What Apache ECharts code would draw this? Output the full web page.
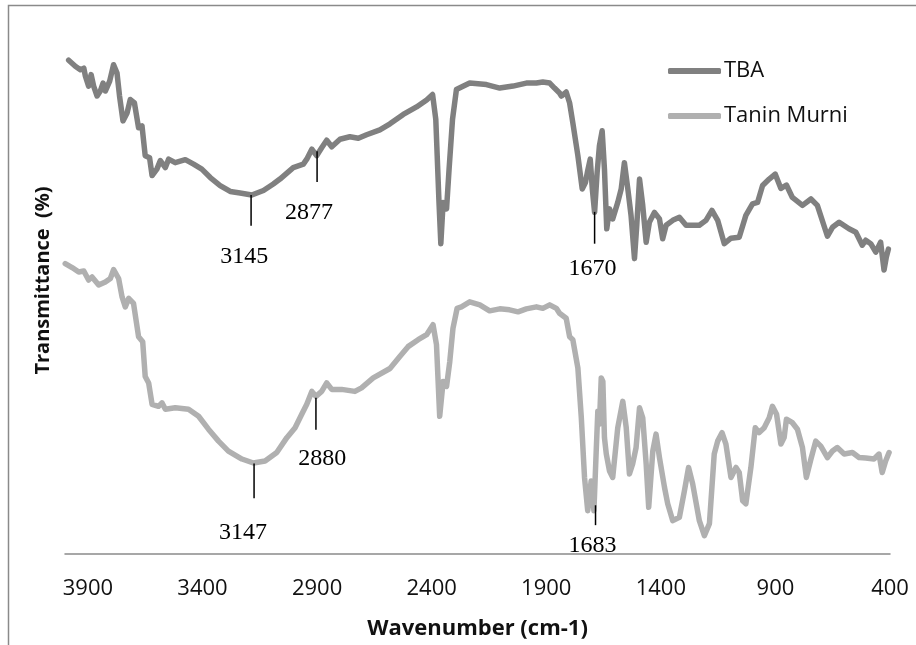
<!DOCTYPE html>
<html>
<head>
<meta charset="utf-8">
<script src="https://cdn.jsdelivr.net/npm/echarts@6/dist/echarts.min.js"></script>
<style>html,body{margin:0;padding:0;background:#fff}#c{width:916px;height:645px}</style>
</head>
<body>
<div id="c"></div>
<script>
// ---- data ----
const xTickLabels = [3900, 3400, 2900, 2400, 1900, 1400, 900, 400];
const seriesNames = ['TBA', 'Tanin Murni'];

const tbaWavenumber = [3984,3955,3933,3918,3911,3897,3886,3875,3860,3846,3834,3824,3805,3788,3773,3762,3747,3729,3715,3697,3679,3664,3650,3631,3620,3599,3584,3562,3548,3519,3475,3439,3403,3366,3323,3279,3236,3185,3134,3091,3062,3004,2960,2945,2923,2902,2880,2858,2836,2800,2757,2720,2684,2626,2582,2524,2466,2422,2396,2382,2368,2360,2350,2335,2324,2309,2292,2270,2234,2161,2103,2045,1987,1943,1915,1885,1864,1842,1834,1813,1798,1784,1762,1743,1729,1719,1708,1699,1689,1678,1668,1656,1646,1636,1624,1610,1588,1573,1559,1544,1530,1515,1505,1493,1479,1464,1450,1428,1406,1392,1377,1348,1319,1290,1232,1203,1177,1152,1123,1094,1058,1029,1000,978,956,927,901,876,852,826,782,745,717,673,651,622,579,549,521,506,484,462,441,426,416,407];
const tbaTransmittance = [99.3,98.1,97.4,97.7,96.1,94.1,96.4,94.1,92.1,93.1,94.7,93.1,95.1,98.4,96.7,92.1,87.1,88.7,91.4,90.7,85.7,86.1,80.1,79.7,76.1,77.4,79.1,77.7,79.4,78.7,79.3,78.4,77.4,75.7,74.1,72.9,72.6,72.2,73.1,74.4,75.4,77.7,78.4,79.4,81.4,80.1,81.7,83.2,81.9,83.4,83.9,83.6,84.3,85.3,86.5,88.4,89.9,91.3,92.4,87.4,70.7,62.4,70.7,69.4,77.4,87.4,93.4,93.9,94.7,94.4,93.7,94.1,94.7,94.7,94.9,94.7,93.7,92.7,92.1,92.9,90.7,86.7,80.1,73.4,74.7,77.1,79.4,73.4,68.7,76.7,82.1,85.1,77.4,65.4,69.4,67.4,70.7,73.4,78.7,73.4,68.1,59.4,66.1,75.4,70.1,62.7,66.7,68.7,67.4,63.4,66.1,67.1,67.7,66.1,66.1,67.1,69.1,67.1,62.4,63.5,63.7,68.1,70.4,70.7,74.1,75.4,76.4,73.5,74.2,71.7,70.1,71.4,70.1,63.9,65.7,66.7,65.4,64.7,62.1,63.1,62.4,60.7,62.7,57.1,59.7,61.3];

const taninWavenumber = [3999,3969,3940,3918,3897,3882,3853,3824,3802,3788,3766,3751,3737,3722,3701,3679,3661,3650,3635,3620,3592,3577,3562,3519,3461,3417,3374,3330,3287,3228,3178,3127,3076,3032,2996,2967,2945,2923,2905,2880,2858,2836,2793,2735,2706,2655,2582,2539,2503,2459,2422,2394,2379,2365,2350,2335,2321,2307,2289,2270,2234,2190,2147,2103,2060,2023,1987,1943,1915,1885,1856,1842,1813,1798,1784,1762,1747,1733,1719,1704,1692,1682,1675,1668,1660,1653,1646,1638,1624,1610,1588,1566,1551,1537,1523,1508,1493,1479,1464,1453,1435,1421,1406,1384,1370,1348,1319,1297,1279,1261,1232,1210,1188,1167,1152,1133,1116,1094,1072,1058,1043,1029,1007,988,971,949,927,913,895,876,862,852,826,804,782,765,745,724,702,673,651,630,600,564,535,506,470,448,434,419,404];
const taninTransmittance = [58.4,57.6,56.7,56.9,55.1,55.7,54.1,54.7,55.4,57.2,55.4,51.7,49.7,51.4,50.4,43.7,42.7,35.7,34.4,30.1,29.7,30.4,29.1,29.4,29.1,27.7,25.1,22.7,20.7,19.1,18.3,18.7,20.4,23.4,25.4,28.1,30.1,32.7,31.7,32.7,34.4,33.1,33.1,32.7,33.4,35.4,37.3,39.7,41.7,43.1,44.1,46.1,42.1,27.7,34.7,33.7,38.7,45.4,49.4,49.7,50.7,50.1,48.9,49.3,49.1,48.7,49.3,49.7,49.4,50.1,49.4,48.4,47.4,43.7,43.1,37.4,27.4,15.4,8.7,14.7,8.7,20.7,28.7,26.1,35.4,34.7,23.4,20.1,16.7,15.4,25.4,30.7,25.4,16.1,18.1,21.4,29.4,27.4,18.1,9.4,20.7,24.1,19.4,13.4,10.1,6.7,7.4,12.7,17.4,14.1,6.7,3.7,6.1,20.1,22.7,24.4,22.1,15.4,17.4,16.4,10.7,10.1,17.4,25.4,24.4,25.4,27.4,29.7,28.1,22.1,23.4,27.1,26.4,25.1,21.4,15.4,19.1,22.7,21.7,19.4,20.7,21.4,20.1,20.4,19.4,19.3,19.1,20.1,16.4,18.7,20.4];

// peak annotations: marker line (wavenumber, top, bottom) and label anchor
const peakLabels      = ['3145', '2877', '1670', '3147', '2880', '1683'];
const peakWavenumber  = [3188, 2900, 1689, 3175, 2905, 1685];
const peakTop         = [72.2, 81.0, 68.8, 18.2, 31.4, 9.8];
const peakBottom      = [66.0, 74.8, 62.4, 11.2, 25.0, 5.8];
const peakLabelWave   = [3218, 2935, 1698, 3223, 2878, 1698];
const peakLabelValue  = [59.8, 68.6, 57.4, 4.2, 19.2, 1.6];

// ---- build ----
const zip = (a, b) => a.map((v, i) => [v, b[i]]);
const peakData = peakLabels.map((t, i) => [peakWavenumber[i], peakTop[i], peakBottom[i], peakLabelWave[i], peakLabelValue[i], t]);

const chart = echarts.init(document.getElementById('c'), null, {renderer: 'canvas'});
const sansFont = '"Open Sans", "Noto Sans", sans-serif';
chart.setOption({
  animation: false,
  backgroundColor: '#ffffff',
  graphic: [{
    type: 'rect', silent: true, z: -1,
    shape: {x: 8.5, y: 5.5, width: 1000, height: 1000},
    style: {fill: 'none', stroke: '#8a8a8a', lineWidth: 1.5}
  }],
  grid: {left: 65, right: 26, top: 7, bottom: 88, containLabel: false},
  legend: {
    data: seriesNames,
    orient: 'vertical',
    left: 663, top: 54,
    itemWidth: 53, itemHeight: 6, itemGap: 21,
    icon: 'roundRect',
    textStyle: {fontFamily: sansFont, fontSize: 22, color: '#111', lineHeight: 24, padding: [0, 0, 0, -2]}
  },
  xAxis: {
    type: 'value',
    inverse: true,
    min: 400, max: 4000, interval: 500,
    name: 'Wavenumber (cm-1)',
    nameLocation: 'middle',
    nameGap: 64,
    nameTextStyle: {fontFamily: sansFont, fontSize: 22, fontWeight: 'bold', color: '#111'},
    axisLine: {show: true, lineStyle: {color: '#8a8a8a', width: 1.5}},
    axisTick: {show: false},
    splitLine: {show: false},
    axisLabel: {
      margin: 24,
      fontFamily: sansFont, fontSize: 22, color: '#111',
      showMaxLabel: true, showMinLabel: true,
      formatter: v => xTickLabels.indexOf(v) >= 0 ? String(v) : ''
    }
  },
  yAxis: {
    type: 'value', min: 0, max: 110,
    name: 'Transmittance  (%)',
    nameLocation: 'middle',
    nameGap: 12,
    nameRotate: 90,
    nameTextStyle: {fontFamily: sansFont, fontSize: 20, fontWeight: 'bold', color: '#111'},
    axisLine: {show: false}, axisTick: {show: false},
    axisLabel: {show: false}, splitLine: {show: false}
  },
  series: [
    {
      name: seriesNames[0], type: 'line', data: zip(tbaWavenumber, tbaTransmittance),
      symbol: 'none', showSymbol: false, smooth: false, z: 3,
      lineStyle: {color: '#808080', width: 5.5, cap: 'round', join: 'round'},
      itemStyle: {color: '#808080'}
    },
    {
      name: seriesNames[1], type: 'line', data: zip(taninWavenumber, taninTransmittance),
      symbol: 'none', showSymbol: false, smooth: false, z: 2,
      lineStyle: {color: '#b0b0b0', width: 5.5, cap: 'round', join: 'round'},
      itemStyle: {color: '#b0b0b0'}
    },
    {
      name: 'peaks', type: 'custom', data: peakData, clip: false, z: 5,
      renderItem: (params, api) => {
        const p1 = api.coord([api.value(0), api.value(1)]);
        const p2 = api.coord([api.value(0), api.value(2)]);
        const pt = api.coord([api.value(3), api.value(4)]);
        return {
          type: 'group',
          children: [
            {type: 'line', shape: {x1: p1[0], y1: p1[1], x2: p2[0], y2: p2[1]}, style: {stroke: '#000', lineWidth: 1.5}},
            {type: 'text', x: pt[0], y: pt[1], style: {
              text: peakData[params.dataIndex][5], fill: '#000',
              font: '24px "Liberation Serif", "DejaVu Serif", serif',
              align: 'center', verticalAlign: 'middle'}}
          ]
        };
      }
    }
  ]
});
</script>
</body>
</html>
